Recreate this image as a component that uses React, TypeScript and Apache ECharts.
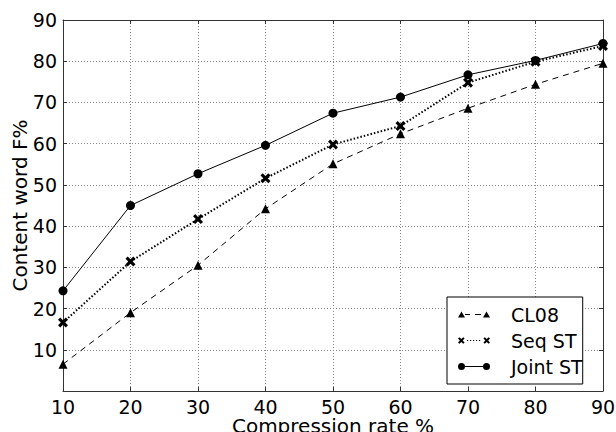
import React, { useEffect, useRef } from "react";
import * as echarts from "echarts";

const rates = [10, 20, 30, 40, 50, 60, 70, 80, 90];
const cl08 = [6.5, 19.0, 30.5, 44.2, 55.1, 62.4, 68.6, 74.4, 79.5];
const seqST = [16.6, 31.4, 41.7, 51.6, 59.8, 64.3, 74.8, 79.9, 83.7];
const jointST = [24.3, 45.0, 52.7, 59.6, 67.4, 71.3, 76.7, 80.2, 84.3];
const seriesNames = ["CL08", "Seq ST", "Joint ST"];

const FONT = "DejaVu Sans";

const X_SYMBOL =
  "path://M0 2.2L2.2 0L5 2.8L7.8 0L10 2.2L7.2 5L10 7.8L7.8 10L5 7.2L2.2 10L0 7.8L2.8 5Z";

const ICON_CL08 =
  "path://M0 7L3.5 1L7 7Z M7 3.6H12V4.6H7Z M17 3.6H23V4.6H17Z M25 7L28.5 1L32 7Z";
const ICON_SEQ =
  "path://M0 2.2L1.4 0.8L3.3 2.7L5.2 0.8L6.6 2.2L4.7 4.1L6.6 6L5.2 7.4L3.3 5.5L1.4 7.4L0 6L1.9 4.1Z" +
  " M9 3.5H10.2V4.7H9Z M12 3.5H13.2V4.7H12Z M15 3.5H16.2V4.7H15Z M18 3.5H19.2V4.7H18Z M21 3.5H22.2V4.7H21Z" +
  " M25.4 2.2L26.8 0.8L28.7 2.7L30.6 0.8L32 2.2L30.1 4.1L32 6L30.6 7.4L28.7 5.5L26.8 7.4L25.4 6L27.3 4.1Z";
const ICON_JOINT =
  "path://M0 4A3.5 3.5 0 1 0 7 4A3.5 3.5 0 1 0 0 4Z M7 3.5H25V4.5H7Z M25 4A3.5 3.5 0 1 0 32 4A3.5 3.5 0 1 0 25 4Z";

export default function App() {
  const ref = useRef<HTMLDivElement>(null);

  useEffect(() => {
    if (!ref.current) return;
    const chart = echarts.init(ref.current, undefined, { renderer: "svg" });
    const axisColor = "#333";
    const gridLine = { show: true, lineStyle: { color: "#888", width: 1, type: [1, 2] } };
    const mk = (arr: number[]) => rates.map((r, i) => [r, arr[i]]);

    chart.setOption({
      animation: false,
      backgroundColor: "#fff",
      textStyle: { fontFamily: FONT },
      grid: {
        left: 63,
        right: 13,
        top: 20,
        bottom: 41,
        containLabel: false,
        outerBoundsMode: "none",
      },
      legend: {
        orient: "vertical",
        left: 447,
        top: 297,
        padding: [8, 0, 8, 11],
        itemGap: 7,
        itemWidth: 32,
        itemHeight: 8,
        symbolKeepAspect: true,
        backgroundColor: "#fff",
        borderColor: "#000",
        borderWidth: 1,
        borderRadius: 0,
        itemStyle: { borderWidth: 0 },
        textStyle: { fontFamily: FONT, fontSize: 19, color: "#000", padding: [0, 0, 0, 16] },
        data: [
          { name: seriesNames[0], icon: ICON_CL08 },
          { name: seriesNames[1], icon: ICON_SEQ },
          { name: seriesNames[2], icon: ICON_JOINT },
        ],
      },
      xAxis: [
        {
          type: "value",
          min: 10,
          max: 90,
          interval: 10,
          name: "Compression rate %",
          nameLocation: "middle",
          nameGap: 24.5,
          nameMoveOverlap: false,
          nameTextStyle: { fontFamily: FONT, fontSize: 20, lineHeight: 20, color: "#000" },
          axisLine: { show: true, onZero: false, lineStyle: { color: axisColor, width: 1 } },
          axisTick: { show: true, inside: true, length: 4, lineStyle: { color: axisColor } },
          axisLabel: { fontFamily: FONT, fontSize: 19, lineHeight: 17, color: "#000", margin: 7.5 },
          splitLine: gridLine,
        },
        {
          type: "value",
          position: "top",
          min: 10,
          max: 90,
          interval: 10,
          axisLine: { show: true, onZero: false, lineStyle: { color: axisColor, width: 1 } },
          axisTick: { show: true, inside: true, length: 4, lineStyle: { color: axisColor } },
          axisLabel: { show: false },
          splitLine: { show: false },
        },
      ],
      yAxis: [
        {
          type: "value",
          min: 0,
          max: 90,
          interval: 10,
          name: "Content word F%",
          nameLocation: "middle",
          nameGap: 33,
          nameMoveOverlap: false,
          nameTextStyle: { fontFamily: FONT, fontSize: 20, color: "#000" },
          axisLine: { show: true, onZero: false, lineStyle: { color: axisColor, width: 1 } },
          axisTick: { show: true, inside: true, length: 4, lineStyle: { color: axisColor } },
          axisLabel: {
            fontFamily: FONT,
            fontSize: 19,
            color: "#000",
            margin: 6,
            formatter: (v: number) => (v === 0 ? "" : String(v)),
          },
          splitLine: gridLine,
        },
        {
          type: "value",
          position: "right",
          min: 0,
          max: 90,
          interval: 10,
          axisLine: { show: true, onZero: false, lineStyle: { color: axisColor, width: 1 } },
          axisTick: { show: true, inside: true, length: 4, lineStyle: { color: axisColor } },
          axisLabel: { show: false },
          splitLine: { show: false },
        },
      ],
      series: [
        {
          name: seriesNames[0],
          type: "line",
          data: mk(cl08),
          symbol: "triangle",
          symbolSize: 9,
          showAllSymbol: true,
          color: "#000",
          itemStyle: { color: "#000", borderWidth: 0 },
          lineStyle: { color: "#000", width: 1, type: [6, 5] },
          z: 3,
        },
        {
          name: seriesNames[1],
          type: "line",
          data: mk(seqST),
          symbol: X_SYMBOL,
          symbolSize: 10,
          showAllSymbol: true,
          color: "#000",
          itemStyle: { color: "#000", borderWidth: 0 },
          lineStyle: { color: "#000", width: 2, type: [1.5, 2] },
          z: 4,
        },
        {
          name: seriesNames[2],
          type: "line",
          data: mk(jointST),
          symbol: "circle",
          symbolSize: 9,
          showAllSymbol: true,
          color: "#000",
          itemStyle: { color: "#000", borderWidth: 0 },
          lineStyle: { color: "#000", width: 1, type: "solid" },
          z: 5,
        },
      ],
    });

    return () => chart.dispose();
  }, []);

  return (
    <div
      ref={ref}
      style={{ position: "fixed", left: 0, top: 0, width: 616, height: 432 }}
    />
  );
}
